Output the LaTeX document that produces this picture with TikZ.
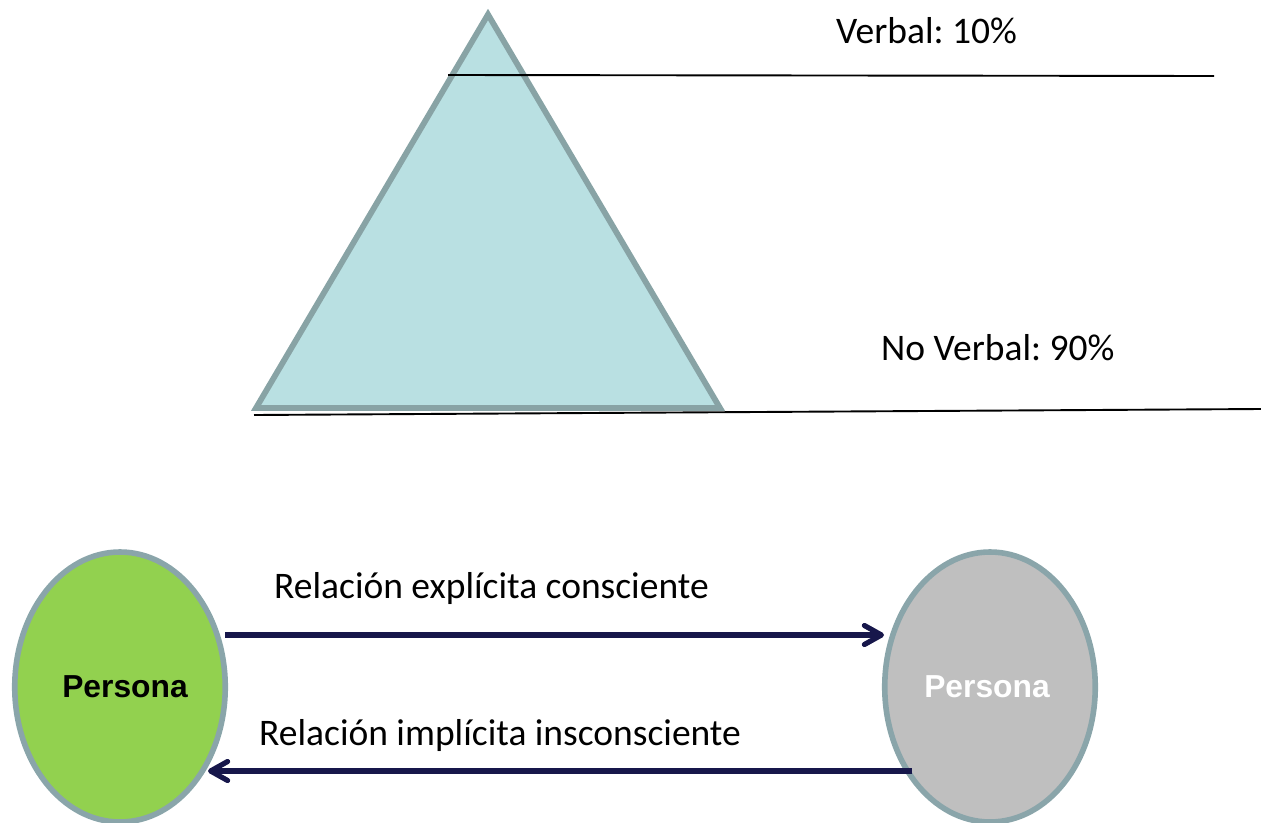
\documentclass[tikz,border=0pt]{standalone}
\usepackage{fontspec}
\setmainfont{Carlito}
\newfontfamily\arialfont{Liberation Sans}
\usetikzlibrary{arrows.meta,shapes.geometric,calc}
\definecolor{triFill}{HTML}{B9E0E2}
\definecolor{triEdge}{HTML}{88A3A5}
\definecolor{ellEdge}{HTML}{8AA5AA}
\definecolor{greenFill}{HTML}{92D14F}
\definecolor{greyFill}{HTML}{BFBFBF}
\definecolor{navy}{HTML}{17174B}
\tikzset{
  x=1pt,y=-1pt,
  persona/.style={ellipse,draw=ellEdge,line width=5.6pt,minimum width=210.5pt,minimum height=270pt,inner sep=0pt,outer sep=0pt,text width=140pt,align=center,font=\arialfont\bfseries\fontsize{31.8}{36}\selectfont},
  caption/.style={font=\fontsize{37.5}{44}\selectfont,text=black,inner sep=0pt,anchor=base west},
  rule/.style={draw=black,line width=1.9pt},
  link/.style={draw=navy,line width=5.2pt,-{Straight Barb[length=17pt,width=19pt,round,line width=5.2pt]}},
  pyramid/.style={fill=triFill,draw=triEdge,line width=5.8pt,line join=miter,miter limit=10}
}
\begin{document}
\begin{tikzpicture}
\frenchspacing
\useasboundingbox (0,0) rectangle (1261,822);
\clip (0,0) rectangle (1261,822);
\draw[pyramid] (488,14.5) -- (720,408) -- (256,408) -- cycle;
\coordinate (topL) at (448,75);
\coordinate (topR) at (1214,76);
\coordinate (baseL) at (254,415);
\coordinate (baseR) at (1261,409);
\draw[rule] (topL) -- (topR);
\draw[rule] (baseL) -- (baseR);
\node[caption] (verbal) at (836,43) {Verbal: 10\%};
\node[caption] (noverbal) at (881,360) {No Verbal: 90\%};
\node[persona,fill=greenFill,text=black] (left) at (120,687) {\hspace*{10pt}Persona};
\node[persona,fill=greyFill,text=white] (right) at (990,687) {\hspace*{-6pt}Persona};
\node[caption] (explicit) at (274,598) {Relación explícita consciente};
\node[caption] (implicit) at (259,745) {Relación implícita insconsciente};
\coordinate (upStart) at ($(left)+(105,-52)$);
\coordinate (upEnd) at ($(right)+(-106,-52)$);
\coordinate (lowStart) at ($(right)+(-78,84)$);
\coordinate (lowEnd) at ($(left)+(88,84)$);
\draw[link] (upStart) -- (upEnd);
\draw[link] (lowStart) -- (lowEnd);
\end{tikzpicture}
\end{document}
